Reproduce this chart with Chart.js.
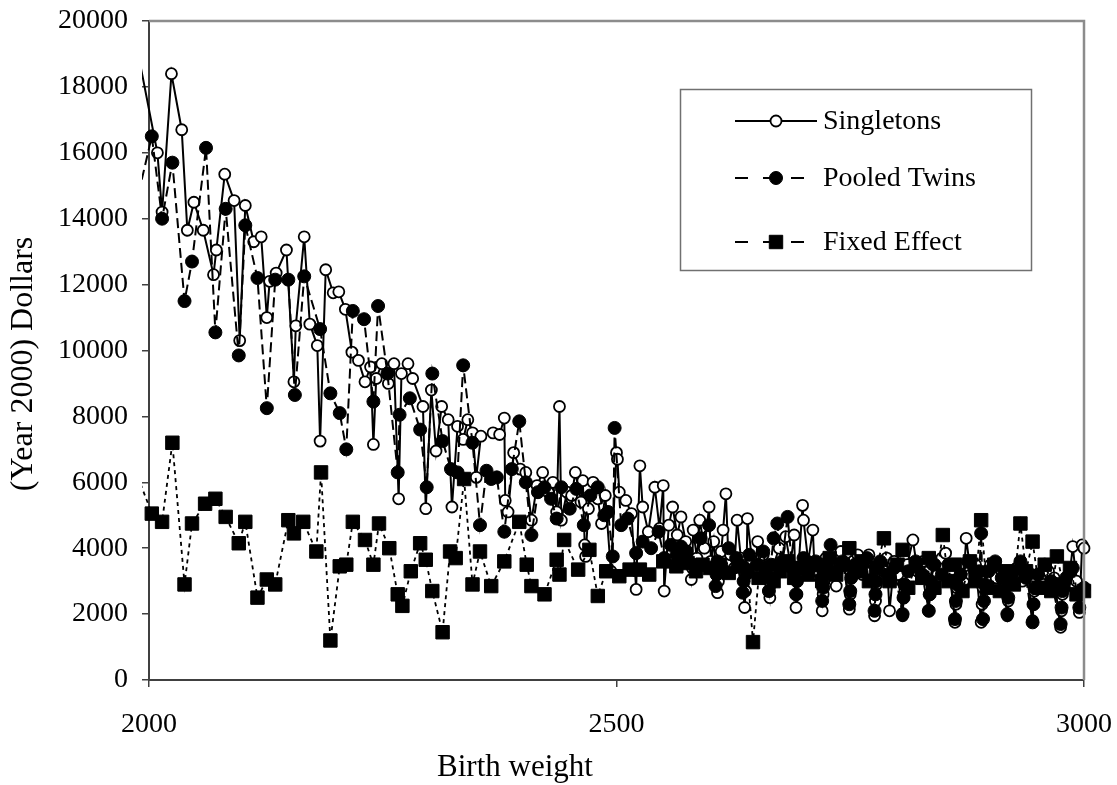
<!DOCTYPE html>
<html>
<head>
<meta charset="utf-8">
<title>Costs by birth weight</title>
<script src="https://cdn.jsdelivr.net/npm/chart.js@4.4.1/dist/chart.umd.min.js"></script>
<style>
  html, body { margin: 0; padding: 0; background: #fff; }
  #wrap { width: 1117px; height: 785px; }
</style>
</head>
<body>
<div id="wrap"><canvas id="costChart"></canvas></div>
<script>
// birth weight (grams) and cost (year 2000 dollars)
const singletonWeight = [
  1985, 2009, 2014, 2024, 2035, 2041, 2048, 2058, 2069, 2072,
  2081, 2091, 2097, 2103, 2112, 2120, 2126, 2129, 2136, 2147,
  2155, 2157, 2166, 2172, 2180, 2183, 2189, 2197, 2203, 2210,
  2217, 2224, 2231, 2237, 2240, 2243, 2249, 2256, 2262, 2267,
  2270, 2277, 2282, 2293, 2296, 2302, 2307, 2313, 2320, 2324,
  2330, 2336, 2341, 2346, 2350, 2355, 2368, 2375, 2380, 2381,
  2384, 2390, 2397, 2403, 2409, 2415, 2421, 2427, 2432, 2436,
  2439, 2441, 2447, 2452, 2456, 2462, 2464, 2466, 2467, 2470,
  2475, 2480, 2484, 2488, 2494, 2500, 2501, 2503, 2510, 2516,
  2521, 2525, 2528, 2534, 2541, 2546, 2550, 2551, 2556, 2560,
  2565, 2569, 2574, 2580, 2581, 2582, 2586, 2589, 2594, 2599,
  2601, 2604, 2608, 2609, 2610, 2612, 2614, 2617, 2620, 2622,
  2626, 2629, 2633, 2637, 2638, 2639, 2640, 2645, 2648, 2651,
  2657, 2660, 2664, 2665, 2666, 2668, 2674, 2677, 2681, 2686,
  2690, 2692, 2693, 2694, 2699, 2700, 2705, 2710, 2712, 2715,
  2720, 2721, 2722, 2724, 2729, 2735, 2740, 2744, 2749, 2750,
  2751, 2753, 2758, 2763, 2767, 2770, 2776, 2777, 2778, 2780,
  2786, 2789, 2792, 2797, 2801, 2806, 2807, 2808, 2811, 2817,
  2822, 2828, 2831, 2834, 2835, 2836, 2838, 2843, 2848, 2852,
  2857, 2862, 2863, 2864, 2867, 2871, 2874, 2879, 2884, 2890,
  2891, 2892, 2895, 2900, 2903, 2906, 2912, 2915, 2918, 2919,
  2920, 2923, 2928, 2934, 2940, 2945, 2946, 2947, 2950, 2956,
  2962, 2965, 2968, 2975, 2976, 2977, 2980, 2985, 2988, 2992,
  2995, 2998, 3000
];
const singletonCost = [
  19500, 16000, 14200, 18400, 16700, 13650, 14500, 13650, 12300, 13050,
  15350, 14550, 10300, 14400, 13300, 13450, 11000, 12100, 12350, 13050,
  9050, 10750, 13450, 10800, 10150, 7250, 12450, 11750, 11780, 11250,
  9950, 9700, 9050, 9500, 7150, 9150, 9600, 9000, 9600, 5500,
  9300, 9600, 9150, 8300, 5200, 8800, 6950, 8300, 7900, 5250,
  7700, 7300, 7900, 7500, 6150, 7400, 7500, 7450, 7950, 5450,
  5100, 6900, 6400, 6300, 4850, 5900, 6300, 5700, 6000, 5100,
  8300, 4850, 5700, 5600, 6300, 5400, 6050, 4100, 3750, 5200,
  6000, 5500, 4750, 5600, 3300, 6900, 6700, 5700, 5450, 5050,
  2750, 6500, 5250, 4500, 5850, 4600, 5900, 2700, 4700, 5250,
  4400, 4950, 4200, 3050, 3400, 4550, 3700, 4850, 4000, 5250,
  3600, 4200, 2650, 3000, 3400, 3900, 4550, 5650, 3500, 3800,
  3400, 4850, 3700, 2200, 2700, 3200, 4900, 3600, 3300, 4200,
  3800, 3300, 2500, 2900, 3300, 3500, 4000, 3400, 4350, 3500,
  4400, 2200, 2600, 3100, 5300, 4850, 3600, 4550, 3200, 3300,
  2100, 2600, 3000, 3700, 3300, 2850, 3900, 3500, 2150, 2600,
  3100, 3600, 3800, 3200, 3600, 3800, 1950, 2400, 2900, 3500,
  3300, 3700, 2100, 3600, 3200, 1950, 2500, 2900, 3500, 4250,
  3300, 3600, 3100, 2100, 2600, 3000, 3500, 3200, 3700, 3850,
  3300, 1750, 2300, 2800, 3400, 3000, 4300, 3200, 3500, 1750,
  2300, 2800, 3300, 3500, 2900, 3100, 3300, 2800, 1950, 2400,
  2900, 3200, 3400, 3000, 3300, 1800, 2300, 2700, 3200, 2900,
  3300, 2800, 3100, 1600, 2100, 2600, 3000, 3300, 4050, 3000,
  2050, 4100, 4000
];

const twinWeight = [
  1985, 2003, 2014, 2025, 2038, 2046, 2061, 2071, 2082, 2096,
  2103, 2116, 2126, 2135, 2149, 2156, 2166, 2183, 2194, 2204,
  2211, 2218, 2230, 2240, 2245, 2255, 2266, 2268, 2279, 2290,
  2297, 2303, 2314, 2323, 2330, 2336, 2346, 2354, 2361, 2366,
  2372, 2380, 2388, 2396, 2403, 2409, 2416, 2423, 2430, 2436,
  2441, 2450, 2457, 2465, 2472, 2480, 2487, 2491, 2496, 2498,
  2505, 2512, 2521, 2528, 2537, 2545, 2551, 2558, 2564, 2569,
  2575, 2582, 2590, 2599, 2606, 2607, 2608, 2612, 2620, 2628,
  2635, 2636, 2637, 2642, 2650, 2657, 2663, 2664, 2665, 2668,
  2672, 2677, 2683, 2688, 2692, 2693, 2694, 2700, 2707, 2713,
  2720, 2721, 2722, 2725, 2729, 2735, 2742, 2749, 2750, 2751,
  2755, 2762, 2768, 2776, 2777, 2778, 2782, 2790, 2797, 2806,
  2807, 2808, 2812, 2820, 2827, 2834, 2835, 2836, 2840, 2848,
  2855, 2862, 2863, 2864, 2868, 2876, 2883, 2888, 2890, 2892,
  2893, 2894, 2898, 2905, 2912, 2918, 2919, 2920, 2925, 2932,
  2938, 2945, 2946, 2947, 2951, 2958, 2965, 2975, 2976, 2977,
  2981, 2988, 2995, 3000
];
const twinCost = [
  14300, 16500, 14000, 15700, 11500, 12700, 16150, 10550, 14300, 9850,
  13800, 12200, 8250, 12150, 12150, 8650, 12250, 10650, 8700, 8100,
  7000, 11200, 10950, 8450, 11350, 9300, 6300, 8050, 8550, 7600,
  5850, 9300, 7250, 6400, 6300, 9550, 7200, 4700, 6350, 6100,
  6150, 4500, 6400, 7850, 6000, 4400, 5700, 5850, 5500, 4900,
  5850, 5200, 5800, 4700, 5600, 5850, 5000, 5100, 3750, 7650,
  4700, 4900, 3850, 4200, 4000, 4500, 3700, 4100, 3800, 4050,
  3900, 3500, 4300, 4700, 2850, 3200, 3600, 3500, 4000, 3700,
  2650, 3000, 3400, 3800, 3500, 3900, 2700, 3100, 3500, 4300,
  4750, 3600, 4950, 3400, 2600, 3000, 3400, 3700, 3400, 3600,
  2400, 2800, 3200, 3500, 4100, 3300, 3600, 2300, 2700, 3100,
  3500, 3300, 3700, 2100, 2600, 3000, 3600, 3200, 3400, 2000,
  2500, 2900, 3300, 3600, 3200, 2100, 2600, 3000, 3500, 3200,
  3500, 1850, 2400, 2900, 3200, 3600, 3300, 3300, 4450, 1850,
  2400, 2900, 3300, 3600, 3100, 2000, 2500, 2900, 3300, 3600,
  3100, 1750, 2300, 2800, 3200, 3500, 3000, 1700, 2200, 2700,
  3100, 3400, 2200, 2800
];

const fixedWeight = [
  1985, 2003, 2014, 2025, 2038, 2046, 2060, 2071, 2082, 2096,
  2103, 2116, 2126, 2135, 2149, 2155, 2165, 2179, 2184, 2194,
  2204, 2211, 2218, 2231, 2240, 2246, 2257, 2266, 2271, 2280,
  2290, 2296, 2303, 2314, 2322, 2328, 2337, 2346, 2354, 2366,
  2380, 2396, 2404, 2409, 2423, 2436, 2439, 2444, 2459, 2471,
  2480, 2489, 2503, 2514, 2525, 2535, 2550, 2564, 2576, 2585,
  2592, 2600, 2610, 2620, 2630, 2640, 2646, 2652, 2660, 2668,
  2675, 2683, 2690, 2698, 2705, 2713, 2720, 2728, 2735, 2742,
  2749, 2755, 2762, 2770, 2778, 2786, 2792, 2800, 2806, 2812,
  2820, 2827, 2834, 2840, 2849, 2855, 2862, 2870, 2878, 2884,
  2890, 2896, 2904, 2910, 2918, 2925, 2932, 2938, 2945, 2952,
  2958, 2965, 2971, 2978, 2985, 2992, 3000
];
const fixedCost = [
  6400, 5050, 4800, 7200, 2900, 4750, 5350, 5500, 4950, 4150,
  4800, 2500, 3050, 2900, 4850, 4450, 4800, 3900, 6300, 1200,
  3450, 3500, 4800, 4250, 3500, 4750, 4000, 2600, 2250, 3300,
  4150, 3650, 2700, 1450, 3900, 3700, 6100, 2900, 3900, 2850,
  3600, 4800, 3500, 2850, 2600, 3650, 3200, 4250, 3350, 3950,
  2550, 3300, 3150, 3350, 3350, 3200, 3600, 3450, 3550, 3300,
  3500, 3400, 3500, 3250, 3450, 3300, 1150, 3100, 3400, 3000,
  3300, 3600, 3100, 3400, 3200, 3500, 3000, 3700, 3200, 3500,
  4000, 3300, 3600, 3000, 3400, 4300, 3000, 3500, 3950, 2800,
  3500, 3100, 3700, 2800, 4400, 3000, 3500, 2700, 3600, 3000,
  4850, 2800, 3500, 2700, 3300, 2900, 4750, 3300, 4200, 2800,
  3500, 2700, 3750, 2900, 3400, 2600, 2700
];

const xTicks = [2000, 2500, 3000];
const yTickStep = 2000;
const xTitle = 'Birth weight';
const yTitle = '(Year 2000) Dollars';

function pairUp(weights, costs) {
  return weights.map((w, i) => ({ x: w, y: costs[i] }));
}

const serif = '"Liberation Serif", "Times New Roman", serif';

function drawMarker(ctx, style, x, y, r, fill, stroke, lw) {
  ctx.beginPath();
  if (style === 'rect') {
    const s = r * Math.SQRT1_2;
    ctx.rect(x - s, y - s, 2 * s, 2 * s);
  } else {
    ctx.arc(x, y, r, 0, Math.PI * 2);
  }
  ctx.fillStyle = fill;
  ctx.fill();
  ctx.lineWidth = lw;
  ctx.strokeStyle = stroke;
  ctx.stroke();
}

// plot frame, axis titles (placed where the original has them) and boxed legend
const frameAndLegend = {
  id: 'frameAndLegend',
  afterDraw(chart) {
    const ctx = chart.ctx;
    const a = chart.chartArea;
    ctx.save();
    ctx.strokeStyle = '#8c8c8c';
    ctx.lineWidth = 2.5;
    ctx.beginPath();
    ctx.moveTo(a.left, a.top);
    ctx.lineTo(a.right, a.top);
    ctx.lineTo(a.right, a.bottom);
    ctx.stroke();

    // axis titles
    ctx.fillStyle = '#000';
    ctx.font = '31px ' + serif;
    ctx.textAlign = 'center';
    ctx.textBaseline = 'alphabetic';
    ctx.fillText(xTitle, 515, 776);
    ctx.save();
    ctx.translate(24, 364);
    ctx.rotate(-Math.PI / 2);
    ctx.font = '32px ' + serif;
    ctx.textBaseline = 'middle';
    ctx.fillText(yTitle, 0, 0);
    ctx.restore();

    // legend box
    ctx.fillStyle = '#fff';
    ctx.fillRect(681, 90, 351, 181);
    ctx.strokeStyle = '#707070';
    ctx.lineWidth = 1.5;
    ctx.strokeRect(680.5, 89.5, 351, 181);

    const rows = [121, 178, 242];
    chart.data.datasets.forEach((ds, i) => {
      const y = rows[i];
      ctx.save();
      ctx.strokeStyle = ds.borderColor;
      ctx.lineWidth = 2;
      ctx.setLineDash(ds.legendDash || []);
      ctx.beginPath();
      ctx.moveTo(735, y);
      ctx.lineTo(817, y);
      ctx.stroke();
      ctx.restore();
      drawMarker(ctx, ds.pointStyle, 776, y, ds.legendRadius,
        ds.pointBackgroundColor, ds.pointBorderColor, ds.pointBorderWidth);
      ctx.fillStyle = '#000';
      ctx.font = '28px ' + serif;
      ctx.textAlign = 'left';
      ctx.textBaseline = 'middle';
      ctx.fillText(ds.label, 823, y + 1);
    });
    ctx.restore();
  }
};

const tickFont = { family: serif, size: 28 };
const clipBox = { left: 7, top: 6, right: 8, bottom: 6 };

new Chart(document.getElementById('costChart'), {
  type: 'scatter',
  data: {
    datasets: [
      {
        label: 'Singletons',
        data: pairUp(singletonWeight, singletonCost),
        showLine: true,
        borderColor: '#000',
        borderWidth: 2,
        pointStyle: 'circle',
        pointRadius: 5.5,
        legendRadius: 5.5,
        pointBackgroundColor: '#fff',
        pointBorderColor: '#000',
        pointBorderWidth: 1.8,
        clip: clipBox,
        order: 3
      },
      {
        label: 'Pooled Twins',
        data: pairUp(twinWeight, twinCost),
        showLine: true,
        borderColor: '#000',
        borderWidth: 2,
        borderDash: [10, 5],
        legendDash: [13, 15],
        pointStyle: 'circle',
        pointRadius: 6.5,
        legendRadius: 6.5,
        pointBackgroundColor: '#000',
        pointBorderColor: '#000',
        pointBorderWidth: 1,
        clip: clipBox,
        order: 2
      },
      {
        label: 'Fixed Effect',
        data: pairUp(fixedWeight, fixedCost),
        showLine: true,
        borderColor: '#000',
        borderWidth: 1.8,
        borderDash: [4, 4],
        legendDash: [13, 15],
        pointStyle: 'rect',
        pointRadius: 9.5,
        legendRadius: 9.5,
        pointBackgroundColor: '#000',
        pointBorderColor: '#000',
        pointBorderWidth: 1,
        clip: clipBox,
        order: 1
      }
    ]
  },
  options: {
    responsive: true,
    maintainAspectRatio: false,
    animation: false,
    layout: { padding: { top: 21, right: 33, left: 0, bottom: 0 } },
    plugins: {
      legend: { display: false },
      tooltip: { enabled: false }
    },
    scales: {
      x: {
        type: 'linear',
        min: 2000,
        max: 3000,
        afterBuildTicks: s => { s.ticks = xTicks.map(v => ({ value: v })); },
        afterFit: s => { s.height = 105; s.paddingLeft = 0; s.paddingRight = 0; },
        ticks: {
          color: '#000',
          font: tickFont,
          padding: 21,
          maxRotation: 0,
          callback: v => String(v)
        },
        grid: { drawOnChartArea: false, drawTicks: true, tickLength: 7, color: '#404040', lineWidth: 1.5 },
        border: { display: true, color: '#404040', width: 2 }
      },
      y: {
        min: 0,
        max: 20000,
        afterFit: s => { s.width = 149; s.paddingTop = 0; s.paddingBottom = 0; },
        ticks: {
          stepSize: yTickStep,
          color: '#000',
          font: tickFont,
          padding: 14,
          callback: v => String(v)
        },
        grid: { drawOnChartArea: false, drawTicks: true, tickLength: 7, color: '#404040', lineWidth: 1.5 },
        border: { display: true, color: '#404040', width: 2 }
      }
    }
  },
  plugins: [frameAndLegend]
});
</script>
</body>
</html>
